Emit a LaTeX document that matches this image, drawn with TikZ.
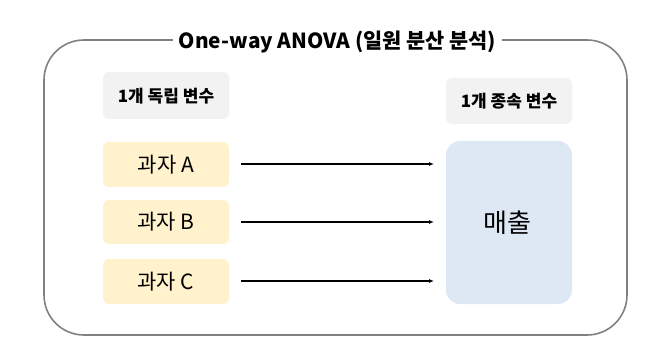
\documentclass[tikz,border=0pt]{standalone}
\usepackage{fontspec}
\setmainfont{Noto Sans CJK KR}
\usetikzlibrary{arrows.meta}
\begin{document}
\begin{tikzpicture}[x=1pt,y=-1pt,
  frame/.style={draw=black!50, line width=1.6pt, rounded corners=40pt},
  labelbox/.style={fill=black!5, rounded corners=6pt, draw=none},
  srcbox/.style={fill={rgb,255:red,255;green,242;blue,204}, rounded corners=6pt},
  dstbox/.style={fill={rgb,255:red,222;green,232;blue,245}, rounded corners=14pt},
  conn/.style={-{Latex[length=5pt,width=4pt]}, line width=1.3pt},
  lbl/.style={font=\bfseries\fontsize{17}{19}\selectfont},
  src/.style={font=\fontsize{21}{23}\selectfont}
]
\useasboundingbox (0,0) rectangle (663,355);
\draw[frame] (44,40) rectangle (627,335);
\node[fill=white, inner xsep=6pt, inner ysep=2pt, font=\bfseries\fontsize{20.8}{22}\selectfont] (title) at (337.5,42) {One-way ANOVA (일원 분산 분석)};

\fill[labelbox] (103,72) rectangle (229,119);
\node[lbl] (iv) at (166,96) {1개 독립 변수};
\fill[labelbox] (446,78) rectangle (572,124);
\node[lbl] (dv) at (509,101) {1개 종속 변수};

\path[srcbox] (103,142) rectangle (229,187);
\node[src] (a) at (166,164.5) {과자 A};
\path[srcbox] (103,200) rectangle (229,244);
\node[src] (b) at (166,222) {과자 B};
\path[srcbox] (103,259) rectangle (229,304);
\node[src] (c) at (166,281.5) {과자 C};

\path[dstbox] (446,141) rectangle (572,304);
\node[font=\fontsize{26}{28}\selectfont] (m) at (507,222.5) {매출};

\coordinate (as) at (241,164);
\coordinate (ae) at (434,164);
\coordinate (bs) at (241,222);
\coordinate (be) at (434,222);
\coordinate (cs) at (241,281);
\coordinate (ce) at (434,281);
\draw[conn] (as) -- (ae);
\draw[conn] (bs) -- (be);
\draw[conn] (cs) -- (ce);
\end{tikzpicture}
\end{document}
